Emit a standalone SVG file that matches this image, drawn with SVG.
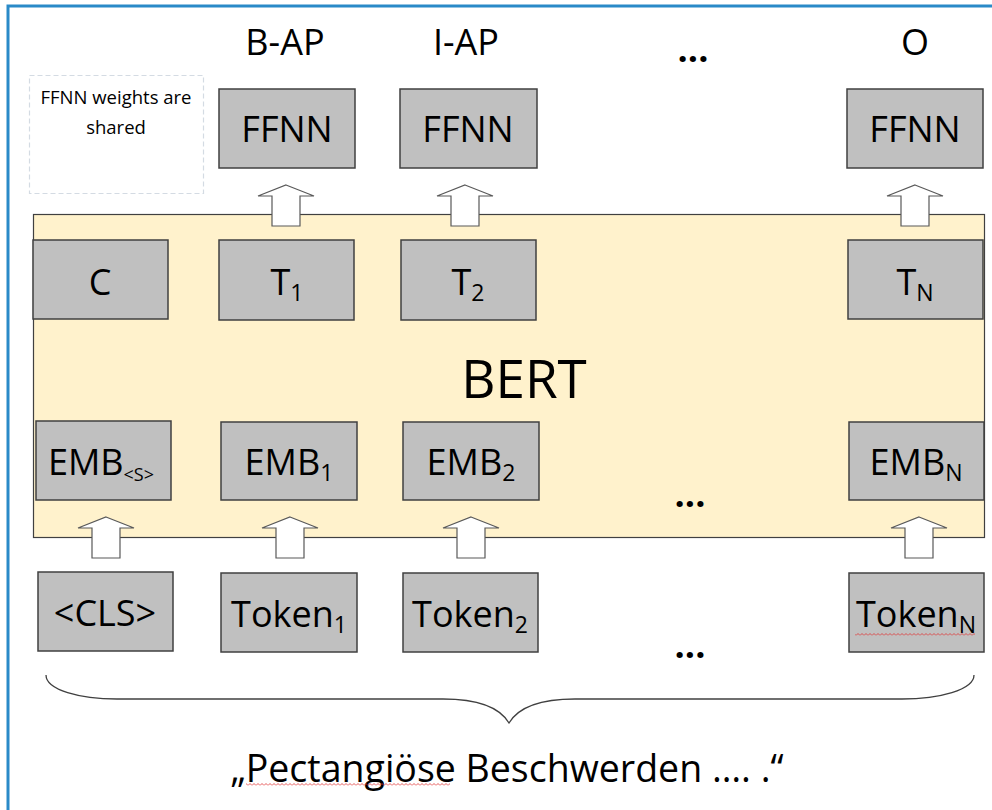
<svg xmlns="http://www.w3.org/2000/svg" xmlns:xlink="http://www.w3.org/1999/xlink" width="992" height="810" viewBox="0 0 992 810">
<style>
  text { font-family: "Open Sans", "Noto Sans", "Liberation Sans", sans-serif; fill: #000; }
  .box { fill: #c0c0c0; stroke: #404040; stroke-width: 1.5; }
  .lbl { font-size: 36px; text-anchor: middle; }
  .top { font-size: 36px; text-anchor: middle; }
  .sub { font-size: 23px; }
  .arrow { fill: #ffffff; stroke: #595959; stroke-width: 1.2; }
  .dots { font-size: 36px; text-anchor: middle; font-weight: bold; }
</style>
<defs>
  <path id="arr" d="M0,0 L28,11 L14,11 L14,41 L-14,41 L-14,11 L-28,11 Z"/>
  <pattern id="sq" width="4" height="3" patternUnits="userSpaceOnUse">
    <path d="M0,2.5 L2,0.5 L4,2.5" fill="none" stroke="#e03030" stroke-width="0.8"/>
  </pattern>
</defs>
<rect x="0" y="0" width="992" height="810" fill="#ffffff"/>
<!-- frame -->
<path d="M8,810 L8,6 L992,6" fill="none" stroke="#2a8ac8" stroke-width="3"/>

<!-- note -->
<g id="note">
  <rect x="29.5" y="75.5" width="174" height="118" fill="#ffffff" stroke="#d4dbe3" stroke-width="1.2" stroke-dasharray="5,3"/>
  <text x="116" y="104" font-size="18.5" text-anchor="middle">FFNN weights are</text>
  <text x="116" y="134" font-size="18.5" text-anchor="middle">shared</text>
</g>

<!-- output labels -->
<g id="labels">
  <text class="top" x="285" y="55">B-AP</text>
  <text class="top" x="466" y="55">I-AP</text>
  <text class="top" x="915" y="55">O</text>
  <text class="dots" x="693" y="62">...</text>
</g>

<!-- BERT -->
<g id="bert">
  <rect x="33.5" y="214.5" width="951" height="323" fill="#fff2cc" stroke="#404040" stroke-width="1.2"/>
  <text x="524" y="398" font-size="53" text-anchor="middle">BERT</text>
  <text class="dots" x="690" y="507">...</text>
</g>

<!-- FFNN row -->
<g id="ffnn1"><rect class="box" x="219" y="89" width="136" height="79"/><text class="lbl" x="287" y="142">FFNN</text></g>
<g id="ffnn2"><rect class="box" x="400" y="89" width="137" height="79"/><text class="lbl" x="468" y="142">FFNN</text></g>
<g id="ffnnN"><rect class="box" x="847" y="89" width="136" height="79"/><text class="lbl" x="915" y="142">FFNN</text></g>

<!-- T row -->
<g id="c"><rect class="box" x="33" y="240" width="135" height="79"/><text class="lbl" x="100" y="295">C</text></g>
<g id="t1"><rect class="box" x="219" y="240" width="135" height="80"/><text class="lbl" x="287" y="295">T<tspan class="sub" dy="6">1</tspan></text></g>
<g id="t2"><rect class="box" x="401" y="240" width="135" height="80"/><text class="lbl" x="468" y="295">T<tspan class="sub" dy="6">2</tspan></text></g>
<g id="tN"><rect class="box" x="848" y="240" width="135" height="79"/><text class="lbl" x="915" y="295">T<tspan class="sub" dy="6">N</tspan></text></g>

<!-- EMB row -->
<g id="embS"><rect class="box" x="36" y="421" width="135" height="79"/><text class="lbl" x="101" y="475">EMB<tspan font-size="18" dy="6">&lt;S&gt;</tspan></text></g>
<g id="emb1"><rect class="box" x="221" y="422" width="136" height="78"/><text class="lbl" x="289" y="475">EMB<tspan class="sub" dy="6">1</tspan></text></g>
<g id="emb2"><rect class="box" x="403" y="422" width="136" height="78"/><text class="lbl" x="471" y="475">EMB<tspan class="sub" dy="6">2</tspan></text></g>
<g id="embN"><rect class="box" x="849" y="422" width="135" height="78"/><text class="lbl" x="916" y="475">EMB<tspan class="sub" dy="6">N</tspan></text></g>

<!-- Token row -->
<g id="cls"><rect class="box" x="38" y="572" width="135" height="79"/><text class="lbl" x="105" y="626">&lt;CLS&gt;</text></g>
<g id="tok1"><rect class="box" x="221" y="573" width="136" height="79"/><text class="lbl" x="289" y="627">Token<tspan class="sub" dy="6">1</tspan></text></g>
<g id="tok2"><rect class="box" x="403" y="573" width="135" height="79"/><text class="lbl" x="470" y="627">Token<tspan class="sub" dy="6">2</tspan></text></g>
<g id="tokN"><rect class="box" x="849" y="573" width="135" height="79"/><text class="lbl" x="916" y="627">Token<tspan class="sub" dy="6">N</tspan></text>
  <rect x="855" y="633" width="120" height="3" fill="url(#sq)"/></g>
<text class="dots" x="690" y="658">...</text>

<!-- connectors -->
<g id="connectors">
  <use xlink:href="#arr" href="#arr" class="arrow" x="286" y="185"/>
  <use xlink:href="#arr" href="#arr" class="arrow" x="465" y="185"/>
  <use xlink:href="#arr" href="#arr" class="arrow" x="915" y="185"/>
  <use xlink:href="#arr" href="#arr" class="arrow" x="106" y="517"/>
  <use xlink:href="#arr" href="#arr" class="arrow" x="290" y="517"/>
  <use xlink:href="#arr" href="#arr" class="arrow" x="471" y="517"/>
  <use xlink:href="#arr" href="#arr" class="arrow" x="919" y="517"/>
</g>

<!-- brace -->
<g id="brace">
  <path d="M46,675 C46,690 80,699 117,699 L443,699 C480,699 500,708 509,723 C518,708 538,699 575,699 L902,699 C939,699 974,690 974,675" fill="none" stroke="#404040" stroke-width="1.3"/>
</g>

<!-- sentence -->
<g id="sentence">
  <text x="507" y="782" font-size="37.5" text-anchor="middle">„Pectangiöse Beschwerden …. .“</text>
  <rect x="246" y="783" width="204" height="3" fill="url(#sq)"/>
</g>
</svg>
